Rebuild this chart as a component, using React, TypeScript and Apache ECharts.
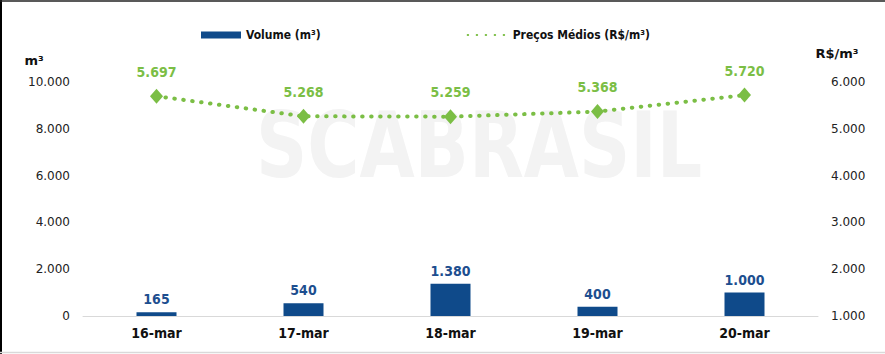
import React, { useEffect, useRef } from "react";
import * as echarts from "echarts";

const categories = ["16-mar", "17-mar", "18-mar", "19-mar", "20-mar"];
const volumes = [165, 540, 1380, 400, 1000];
const prices = [5697, 5268, 5259, 5368, 5720];
const volumeTicks = { min: 0, max: 10000, interval: 2000 };
const priceTicks = { min: 1000, max: 6000, interval: 1000 };

const BLUE = "#0F4A8A";
const BLUE_LABEL = "#1D4E8F";
const GREEN = "#7BBE45";
const FONT = "'DejaVu Sans Condensed', 'Liberation Sans Narrow', 'DejaVu Sans', sans-serif";
const AXFONT = "'DejaVu Sans', sans-serif";

const fmt = (n: number) => String(n).replace(/\B(?=(\d{3})+(?!\d))/g, ".");

export default function App() {
  const ref = useRef<HTMLDivElement>(null);
  useEffect(() => {
    if (!ref.current) return;
    const chart = echarts.init(ref.current, null, { renderer: "svg" });
    chart.setOption({
      animation: false,
      backgroundColor: "#fff",
      textStyle: { fontFamily: FONT },
      grid: { left: 83, right: 67, top: 82, bottom: 38, containLabel: false },
      legend: {
        left: 196,
        top: 24,
        itemWidth: 40,
        itemHeight: 7,
        itemGap: 146,
        textStyle: { fontFamily: FONT, fontWeight: "bold", fontSize: 12, color: "#111" },
        data: [
          { name: "Volume (m³)", icon: "rect" },
          { name: "Preços Médios (R$/m³)", itemStyle: { opacity: 0 } },
        ],
      },
      graphic: [
        {
          type: "text",
          x: 479,
          y: 146,
          scaleX: 0.88,
          silent: true,
          z: -10,
          style: {
            text: "SCABRASIL",
            font: "bold 90px 'DejaVu Sans Condensed', 'Liberation Sans Narrow', sans-serif",
            fill: "#F3F3F3",
            align: "center",
            verticalAlign: "middle",
            lineHeight: 60,
          },
        },
        {
          type: "text",
          x: 34,
          y: 60,
          style: { text: "m³", font: `bold 13px ${AXFONT}`, fill: "#111", align: "center", verticalAlign: "middle" },
        },
        {
          type: "text",
          x: 837,
          y: 53,
          style: { text: "R$/m³", font: `bold 13px ${AXFONT}`, fill: "#111", align: "center", verticalAlign: "middle" },
        },
        { type: "line", shape: { x1: 1, y1: 0, x2: 1, y2: 354 }, style: { stroke: "#000", lineWidth: 2 } },
        { type: "line", shape: { x1: 0, y1: 1, x2: 885, y2: 1 }, style: { stroke: "#222", lineWidth: 1.5 } },
        { type: "line", shape: { x1: 0, y1: 352.5, x2: 885, y2: 352.5 }, style: { stroke: "#D9D9D9", lineWidth: 1.5 } },
      ],
      xAxis: {
        type: "category",
        data: categories,
        axisLine: { lineStyle: { color: "#D9D9D9", width: 1 } },
        axisTick: { show: false },
        axisLabel: { fontFamily: FONT, fontWeight: "bold", fontSize: 14, color: "#111", margin: 10 },
      },
      yAxis: [
        {
          type: "value",
          ...volumeTicks,
          splitLine: { show: false },
          axisLine: { show: false },
          axisTick: { show: false },
          axisLabel: { formatter: (v: number) => fmt(v), fontFamily: AXFONT, fontSize: 12, color: "#222", margin: 13 },
        },
        {
          type: "value",
          ...priceTicks,
          splitLine: { show: false },
          axisLine: { show: false },
          axisTick: { show: false },
          axisLabel: { formatter: (v: number) => fmt(v), fontFamily: AXFONT, fontSize: 12, color: "#222", margin: 13 },
        },
      ],
      series: [
        {
          name: "Volume (m³)",
          type: "bar",
          data: volumes,
          barWidth: 40,
          itemStyle: { color: BLUE },
          label: {
            show: true,
            position: "top",
            distance: 6,
            formatter: (p: any) => fmt(p.value),
            fontFamily: FONT,
            fontWeight: "bold",
            fontSize: 14,
            color: BLUE_LABEL,
          },
        },
        {
          name: "Preços Médios (R$/m³)",
          type: "line",
          yAxisIndex: 1,
          data: prices,
          symbol: "diamond",
          symbolSize: [13, 15],
          itemStyle: { color: GREEN },
          lineStyle: { color: GREEN, width: 4, type: [0.5, 8.5], cap: "round" },
          label: {
            show: true,
            position: "top",
            distance: 10,
            formatter: (p: any) => fmt(p.value),
            fontFamily: FONT,
            fontWeight: "bold",
            fontSize: 14,
            color: GREEN,
          },
        },
      ],
    });
    return () => chart.dispose();
  }, []);
  return (
    <div
      ref={ref}
      style={{ position: "fixed", left: 0, top: 0, width: 885, height: 354 }}
    />
  );
}
